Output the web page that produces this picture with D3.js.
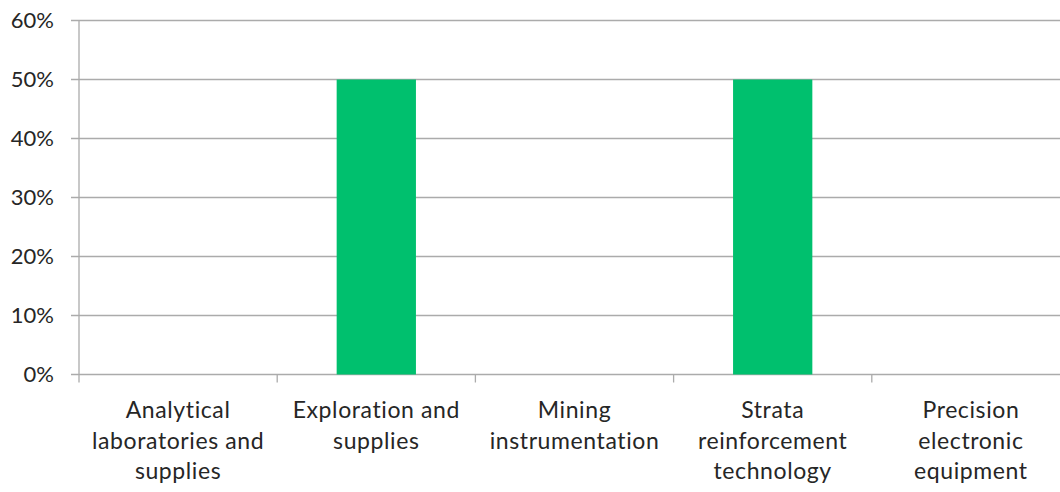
<!DOCTYPE html>
<html>
<head>
<meta charset="utf-8">
<script src="https://cdn.jsdelivr.net/npm/d3@7"></script>
<style>
  html, body { margin: 0; padding: 0; background: #fff; }
  svg { display: block; }
  text { font-family: Lato, "Open Sans", sans-serif; fill: #262626; }
</style>
</head>
<body>
<svg id="chart" width="1060" height="492"></svg>
<script>
// Share of responses by segment
const categories = [
  ["Analytical", "laboratories and", "supplies"],
  ["Exploration and", "supplies"],
  ["Mining", "instrumentation"],
  ["Strata", "reinforcement", "technology"],
  ["Precision", "electronic", "equipment"]
];
const values = [0, 0.5, 0, 0.5, 0];
const yTicks = [0, 0.1, 0.2, 0.3, 0.4, 0.5, 0.6];

const svg = d3.select("#chart");
const plotLeft = 79, plotRight = 1070, plotTop = 20.5, plotBottom = 374.5;

const x = d3.scaleBand()
  .domain(d3.range(categories.length))
  .range([plotLeft, plotRight])
  .paddingInner(0.6)
  .paddingOuter(0.3);

const xStep = d3.scaleBand()
  .domain(d3.range(categories.length))
  .range([plotLeft, plotRight]);

const y = d3.scaleLinear().domain([0, 0.6]).range([plotBottom, plotTop]);

// Horizontal gridlines
svg.append("g")
  .selectAll("line")
  .data(yTicks)
  .join("line")
  .attr("x1", plotLeft - 8)
  .attr("x2", 1060)
  .attr("y1", d => y(d))
  .attr("y2", d => y(d))
  .attr("stroke", "#ababab")
  .attr("stroke-width", 1.3);

// Y axis line
svg.append("line")
  .attr("x1", plotLeft).attr("x2", plotLeft)
  .attr("y1", plotTop).attr("y2", plotBottom + 8)
  .attr("stroke", "#ababab")
  .attr("stroke-width", 1.3);

// Category boundary ticks
svg.append("g")
  .selectAll("line")
  .data(d3.range(1, categories.length))
  .join("line")
  .attr("x1", d => xStep(d))
  .attr("x2", d => xStep(d))
  .attr("y1", plotBottom)
  .attr("y2", plotBottom + 8)
  .attr("stroke", "#ababab")
  .attr("stroke-width", 1.3);

// Y tick labels
svg.append("g")
  .selectAll("text")
  .data(yTicks)
  .join("text")
  .attr("x", 54)
  .attr("y", d => y(d))
  .attr("dy", "0.35em")
  .attr("text-anchor", "end")
  .style("font-size", "22px")
  .text(d => d3.format(".0%")(d));

// Bars
svg.append("g")
  .selectAll("rect")
  .data(values)
  .join("rect")
  .attr("x", (d, i) => x(i))
  .attr("width", x.bandwidth())
  .attr("y", d => y(d))
  .attr("height", d => y(0) - y(d))
  .attr("fill", "#00c06e");

// Category labels
const labels = svg.append("g")
  .selectAll("text")
  .data(categories)
  .join("text")
  .attr("text-anchor", "middle")
  .attr("x", (d, i) => x(i) + x.bandwidth() / 2)
  .attr("y", 418)
  .style("font-size", "23px")
  .style("letter-spacing", "0.6px");

labels.selectAll("tspan")
  .data(d => d)
  .join("tspan")
  .attr("x", function () { return d3.select(this.parentNode).attr("x"); })
  .attr("dy", (d, i) => i === 0 ? 0 : 30.5)
  .text(d => d);
</script>
</body>
</html>
